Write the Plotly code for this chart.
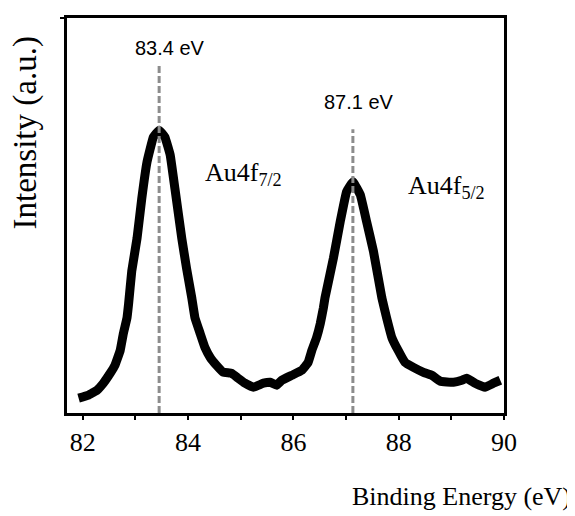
import plotly.graph_objects as go

# XPS Au4f spectrum
binding_energy = [81.92, 82.11, 82.27, 82.39, 82.52, 82.61, 82.71, 82.77, 82.84, 82.87,
                  82.93, 83.03, 83.12, 83.22, 83.34, 83.45, 83.56, 83.66, 83.75, 83.88,
                  83.97, 84.07, 84.13, 84.23, 84.32, 84.42, 84.54, 84.67, 84.83, 84.95,
                  85.08, 85.24, 85.43, 85.56, 85.68, 85.78, 85.97, 86.16, 86.28, 86.35,
                  86.44, 86.51, 86.57, 86.60, 86.76, 86.89, 87.01, 87.13, 87.27, 87.39,
                  87.52, 87.68, 87.77, 87.87, 87.99, 88.12, 88.28, 88.47, 88.63, 88.79,
                  89.04, 89.20, 89.29, 89.45, 89.64, 89.80, 89.93]
intensity = [15, 18, 23, 30, 40, 48, 63, 80, 96, 110,
             143, 176, 216, 253, 278, 285, 278, 260, 226, 176,
             146, 116, 96, 80, 66, 56, 48, 41, 40, 35,
             30, 26, 30, 31, 28, 33, 38, 43, 51, 63,
             76, 90, 106, 116, 156, 193, 223, 233, 220, 193,
             163, 116, 96, 76, 63, 51, 46, 41, 38, 32,
             31, 33, 35, 30, 26, 30, 33]

peak_positions = [83.45, 87.13]
peak_line_tops = [350, 286]
peak_labels = ["83.4 eV", "87.1 eV"]
peak_label_x = [83.66, 87.25]
peak_label_y = [368, 313]
orbital_labels = ["Au4f<sub>7/2</sub>", "Au4f<sub>5/2</sub>"]
orbital_label_x = [84.29, 88.13]
orbital_label_y = [241, 228]

x_major_tick_step = 2
x_minor_tick_step = 1

fig = go.Figure()

fig.add_trace(go.Scatter(x=binding_energy, y=intensity, mode="lines",
                         line=dict(color="black", width=9, shape="spline", smoothing=0.25),
                         showlegend=False))

for px, top in zip(peak_positions, peak_line_tops):
    fig.add_trace(go.Scatter(x=[px, px], y=[0, top], mode="lines",
                             line=dict(color="#8c8c8c", width=3, dash="7px,3px"),
                             hoverinfo="skip", showlegend=False))

serif = "Liberation Serif, Times New Roman, serif"
sans = "Liberation Sans, Arial, sans-serif"

annotations = []
for t, x, y in zip(peak_labels, peak_label_x, peak_label_y):
    annotations.append(dict(x=x, y=y, xref="x", yref="y", text=t, showarrow=False,
                            font=dict(family=sans, size=20, color="black"),
                            xanchor="center", yanchor="middle"))
for t, x, y in zip(orbital_labels, orbital_label_x, orbital_label_y):
    annotations.append(dict(x=x, y=y, xref="x", yref="y", text=t, showarrow=False,
                            font=dict(family=serif, size=26, color="black"),
                            xanchor="left", yanchor="middle"))
annotations.append(dict(x=1.157, y=-0.211, xref="paper", yref="paper",
                        text="Binding Energy (eV)", showarrow=False,
                        font=dict(family=serif, size=26, color="black"),
                        xanchor="right", yanchor="middle"))
annotations.append(dict(x=-0.094, y=0.71, xref="paper", yref="paper",
                        text="Intensity (a.u.)", showarrow=False, textangle=-90,
                        font=dict(family=serif, size=33, color="black"),
                        xanchor="center", yanchor="middle"))

# page body has an 8px margin, so the figure is 8px smaller and shifted
fig.update_layout(
    width=567, height=508,
    margin=dict(l=59, r=71, t=7, b=103),
    plot_bgcolor="white", paper_bgcolor="white",
    annotations=annotations,
    xaxis=dict(range=[81.7, 90], tick0=82, dtick=x_major_tick_step,
               ticks="outside", ticklen=4, tickwidth=2, tickcolor="black",
               minor=dict(tick0=82, dtick=x_minor_tick_step, ticks="outside",
                          ticklen=4, tickwidth=2, tickcolor="black", showgrid=False),
               showline=True, linecolor="black", linewidth=2.5, mirror=True,
               showgrid=False, zeroline=False,
               tickfont=dict(family=serif, size=26, color="black")),
    yaxis=dict(range=[0, 398], showticklabels=False, tickvals=[398],
               ticks="outside", ticklen=4, tickwidth=2, tickcolor="black",
               showline=True, linecolor="black", linewidth=2.5, mirror=True,
               showgrid=False, zeroline=False),
)

fig.write_html("out.html")
